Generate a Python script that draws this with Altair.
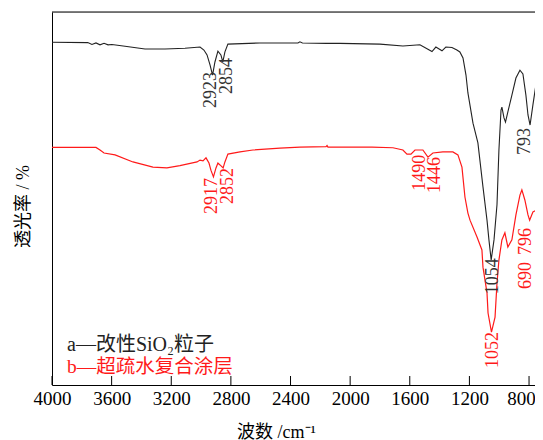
import altair as alt
import pandas as pd

# ---- data ----
black_wn = [4000, 3760, 3732, 3705, 3678, 3651, 3624, 3598, 3510, 3376, 3242, 3108, 3007, 2981, 2960, 2940,
            2923, 2907, 2887, 2867, 2854, 2840, 2820, 2605, 2350, 2337, 2320, 2160, 2068, 1800, 1646, 1532,
            1451, 1425, 1384, 1358, 1317, 1284, 1264, 1243, 1223, 1210, 1176, 1143, 1109, 1082, 1069, 1054,
            1035, 1015, 1002, 988, 982, 968, 958, 942, 915, 888, 861, 841, 821, 807, 793, 774, 747, 727, 694]
black_t = [91.9, 91.8, 91.3, 91.7, 91.2, 91.6, 91.2, 91.3, 90.8, 90.1, 90.1, 90.3, 90.6, 89.8, 88.5, 85.8,
           83.1, 86.6, 89.5, 88.5, 86.6, 89.3, 91.4, 91.7, 91.7, 92.0, 91.7, 91.6, 91.6, 91.4, 90.9, 91.2,
           89.4, 90.6, 89.6, 90.6, 90.5, 89.8, 89.3, 87.7, 83.1, 78.3, 70.2, 64.9, 53.1, 44.2, 38.9, 33.5,
           38.9, 48.3, 63.0, 73.7, 74.5, 71.6, 70.5, 73.2, 77.7, 82.3, 84.4, 83.4, 77.7, 72.4, 69.7, 75.1,
           82.3, 83.1, 82.6]

red_wn = [4000, 3705, 3678, 3651, 3577, 3457, 3323, 3229, 3142, 3027, 3007, 2987, 2967, 2947, 2934, 2917,
          2900, 2887, 2873, 2852, 2840, 2820, 2739, 2652, 2471, 2337, 2162, 2155, 2149, 2001, 1854, 1713,
          1646, 1619, 1592, 1565, 1512, 1478, 1445, 1378, 1311, 1277, 1250, 1230, 1210, 1196, 1149, 1116,
          1109, 1082, 1075, 1052, 1028, 1015, 1002, 982, 962, 942, 915, 888, 861, 848, 828, 807, 796, 774,
          747, 727, 694]
red_t = [63.7, 63.7, 63.0, 62.2, 61.7, 59.8, 58.4, 58.2, 58.8, 59.8, 60.3, 60.1, 60.9, 59.5, 57.6, 55.8,
         58.2, 59.5, 59.0, 58.2, 59.8, 61.9, 62.5, 63.0, 63.5, 63.8, 63.9, 64.2, 63.8, 63.8, 63.8, 63.6,
         63.0, 61.9, 61.9, 63.0, 63.0, 61.1, 62.2, 62.5, 62.5, 61.7, 58.4, 50.4, 46.1, 44.2, 39.7, 36.2,
         31.6, 24.7, 19.3, 14.2, 18.2, 27.3, 33.5, 38.9, 40.8, 37.0, 38.9, 45.6, 50.9, 52.3, 49.6, 45.6,
         44.2, 46.4, 46.9, 50.4, 48.3]

black_labels = ["2923", "2854", "1054", "793"]
black_label_wn = [2934, 2823, 1040, 825]
black_label_t = [83.9, 87.7, 34.0, 68.9]

red_labels = ["2917", "2852", "1490", "1446", "1052", "796", "690"]
red_label_wn = [2930, 2820, 1532, 1431, 1039, 818, 818]
red_label_t = [55.5, 58.2, 61.7, 61.1, 14.2, 42.1, 33.0]

x_ticks = [4000, 3600, 3200, 2800, 2400, 2000, 1600, 1200, 800]
legend_texts = ["a\u2014改性SiO\u2082粒子", "b\u2014超疏水复合涂层"]
x_title = "波数 /cm\u207b\u00b9"
y_title = "透光率 / %"

# ---- chart ----
W, H = 483, 373
FONT = "Liberation Serif, Noto Sans CJK SC"
BLACK = "#222222"
RED = "#ff1a1a"

xscale = alt.Scale(domain=[4000, 760], nice=False, zero=False)
yscale = alt.Scale(domain=[0, 100], nice=False, zero=False)

black_df = pd.DataFrame({"wn": black_wn, "t": black_t})
red_df = pd.DataFrame({"wn": red_wn, "t": red_t})
bl_df = pd.DataFrame({"wn": black_label_wn, "t": black_label_t, "label": black_labels})
rl_df = pd.DataFrame({"wn": red_label_wn, "t": red_label_t, "label": red_labels})
tick_df = pd.DataFrame({"wn": x_ticks})

x_axis = alt.Axis(values=x_ticks, format="d", title=x_title, ticks=False, grid=False,
                  labelFont=FONT, labelFontSize=19, labelColor="black", labelPadding=4,
                  labelFlush=False, labelOverlap=False,
                  labelOffset=alt.condition("datum.value == 800", alt.value(-8), alt.value(0)),
                  domainColor="black", domainWidth=1,
                  titleFont=FONT, titleFontSize=18, titleFontWeight="normal", titleColor="black",
                  titleX=224, titleY=52, titleAlign="center", titleBaseline="alphabetic")
y_axis = alt.Axis(labels=False, ticks=False, grid=False, domainColor="black", domainWidth=1,
                  title=y_title, titleFont=FONT, titleFontSize=18, titleFontWeight="normal",
                  titleColor="black", titleAngle=270, titleX=-29, titleY=194,
                  titleAlign="center", titleBaseline="middle")

X = alt.X("wn:Q", scale=xscale, axis=x_axis)
Y = alt.Y("t:Q", scale=yscale, axis=y_axis)

line_b = alt.Chart(black_df).mark_line(color=BLACK, strokeWidth=1.1, clip=True).encode(
    x=X, y=Y, order=alt.Order("wn:Q", sort="descending"))
line_r = alt.Chart(red_df).mark_line(color=RED, strokeWidth=1.2, clip=True).encode(
    x=X, y=Y, order=alt.Order("wn:Q", sort="descending"))

lab_b = alt.Chart(bl_df).mark_text(angle=270, align="right", baseline="middle", font=FONT,
                                   fontSize=18, color="#333333").encode(
    x=X, y=Y, text="label:N")
lab_r = alt.Chart(rl_df).mark_text(angle=270, align="right", baseline="middle", font=FONT,
                                   fontSize=18, color=RED).encode(
    x=X, y=Y, text="label:N")

ticks_in = alt.Chart(tick_df).mark_rule(color="black", strokeWidth=1).encode(
    x=X, y=alt.value(H), y2=alt.value(H - 9))

top_rule = alt.Chart(pd.DataFrame({"a": [0]})).mark_rule(color="black", strokeWidth=1).encode(
    x=alt.value(0), x2=alt.value(W), y=alt.value(0))

leg_a = alt.Chart(pd.DataFrame({"txt": [legend_texts[0]]})).mark_text(
    align="left", baseline="middle", font=FONT, fontSize=20, color=BLACK).encode(
    x=alt.value(15), y=alt.value(333), text="txt:N")
leg_b = alt.Chart(pd.DataFrame({"txt": [legend_texts[1]]})).mark_text(
    align="left", baseline="middle", font=FONT, fontSize=19.5, color=RED).encode(
    x=alt.value(15), y=alt.value(355), text="txt:N")

chart = alt.layer(line_b, line_r, lab_b, lab_r, ticks_in, top_rule, leg_a, leg_b).properties(
    width=W, height=H,
    padding={"left": 44, "top": 4, "right": 0, "bottom": 55},
    autosize=alt.AutoSizeParams(type="none"),
).configure_view(stroke=None).configure(background="white")

chart.save("out.html", embed_options={"renderer": "svg", "actions": False})
